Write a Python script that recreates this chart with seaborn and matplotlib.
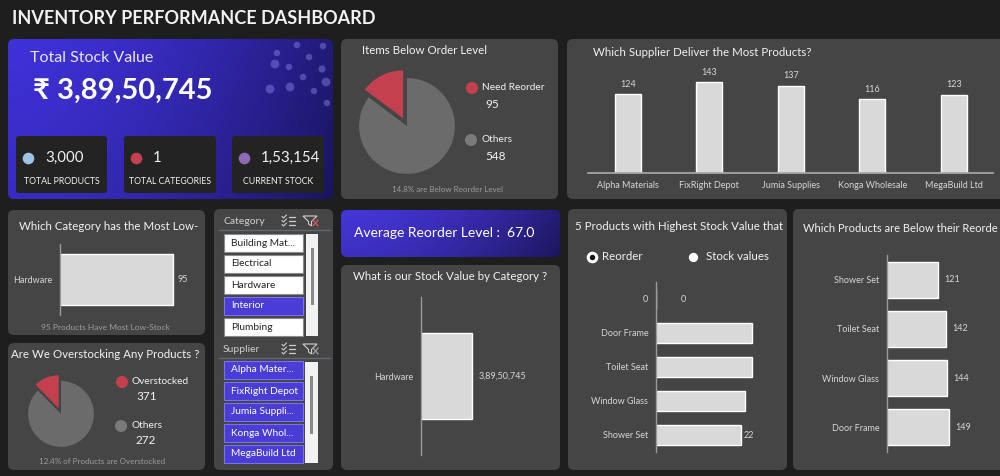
import numpy as np
import matplotlib
matplotlib.use("Agg")
import matplotlib.pyplot as plt
import seaborn as sns
from matplotlib.patches import FancyBboxPatch, Polygon, Rectangle
from matplotlib.colors import LinearSegmentedColormap

# ---- data ----
total_stock_value = 38950745
kpi_labels = ["TOTAL PRODUCTS", "TOTAL CATEGORIES", "CURRENT STOCK"]
kpi_values = [3000, 1, 153154]
kpi_colors = ["#9dc3e6", "#c4404e", "#8e69b5"]

reorder_labels = ["Need Reorder", "Others"]
reorder_counts = [95, 548]

overstock_labels = ["Overstocked", "Others"]
overstock_counts = [371, 272]
overstock_share = [12.4, 87.6]

suppliers = ["Alpha Materials", "FixRight Depot", "Jumia Supplies",
             "Konga Wholesale", "MegaBuild Ltd"]
supplier_products = [124, 143, 137, 116, 123]

low_stock_category = ["Hardware"]
low_stock_count = [95]

value_category = ["Hardware"]
category_stock_value = [38950745]

top_products = ["0", "Door Frame", "Toilet Seat", "Window Glass", "Shower Set"]
top_product_values = [0, 24.8, 24.8, 23.0, 22]
top_product_labels = ["", "", "", "", "22"]

below_products = ["Shower Set", "Toilet Seat", "Window Glass", "Door Frame"]
below_values = [121, 142, 144, 149]

category_items = ["Building Mat...", "Electrical", "Hardware", "Interior", "Plumbing"]
category_selected = [False, False, False, True, False]
supplier_items = ["Alpha Mater...", "FixRight Depot", "Jumia Suppli...",
                  "Konga Whol...", "MegaBuild Ltd"]
avg_reorder_level = 67.0


def indian(n):
    s = str(int(n))
    if len(s) <= 3:
        return s
    head, tail = s[:-3], s[-3:]
    groups = []
    while len(head) > 2:
        groups.insert(0, head[-2:])
        head = head[:-2]
    if head:
        groups.insert(0, head)
    return ",".join(groups + [tail])


sns.set_theme(style="dark")
plt.rcParams["font.family"] = ["Lato", "DejaVu Sans"]

BG = "#1e1e1e"
PANEL = "#454545"
BAR = "#d9d9d9"
TXT = "#f2f2f2"
TICK = "#d6d6d6"
FOOT = "#9c9c9c"
RED = "#c4404e"
GREY = "#6b6b6b"
BLUE = "#4a3cd6"

W, H = 1000, 476
fig = plt.figure(figsize=(10, 4.76), dpi=100, facecolor=BG)
canvas = fig.add_axes([0, 0, 1, 1])
canvas.set_facecolor(BG)
canvas.axis("off")


def panel(x0, y0, x1, y1, color=PANEL, r=6, z=1):
    p = FancyBboxPatch((x0, y0), x1 - x0, y1 - y0,
                       boxstyle=f"round,pad=0,rounding_size={r}",
                       fc=color, ec="none", zorder=z)
    canvas.add_patch(p)
    return p


def gradient(x0, y0, x1, y1, c0, c1):
    p = panel(x0, y0, x1, y1, color="none")
    xx, yy = np.meshgrid(np.linspace(0, 1, 200), np.linspace(0, 1, 60))
    t = 0.8 * xx ** 1.6 + 0.2 * yy
    cmap = LinearSegmentedColormap.from_list("g", [c0, c1])
    im = canvas.imshow(t, extent=(x0, x1, y1, y0), cmap=cmap, aspect="auto",
                       zorder=1, vmin=0, vmax=1)
    im.set_clip_path(p)


def add_ax(x0, y0, x1, y1):
    ax = fig.add_axes([x0 / W, 1 - y1 / H, (x1 - x0) / W, (y1 - y0) / H])
    ax.set_facecolor("none")
    return ax


def txt(x, y, s, size=8, color=TXT, ha="left", weight="normal", **kw):
    canvas.text(x, y, s, fontsize=size, color=color, ha=ha, va="center",
                fontweight=weight, zorder=5, **kw)


def style_hbar(ax, xmax, n):
    ax.set_xlim(0, xmax)
    ax.set_ylim(n - 0.5, -0.5)
    for s in ["top", "right", "bottom"]:
        ax.spines[s].set_visible(False)
    ax.spines["left"].set_visible(True)
    ax.spines["left"].set_color("#9a9a9a")
    ax.spines["left"].set_linewidth(1)
    ax.set_xticks([])
    ax.tick_params(axis="y", length=0, pad=5.5, labelsize=6.5, labelcolor=TICK)
    ax.set_xlabel("")
    ax.set_ylabel("")
    ax.grid(False)


# ---- header ----
txt(12, 18, "INVENTORY PERFORMANCE DASHBOARD", size=13, weight="bold")

# ---- total stock value card ----
gradient(8, 39, 333, 199, "#3f31d8", "#1a1560")
deco = [(297, 45, 22), (323, 46, 22), (277, 53, 22), (275, 64, 40), (289, 67, 22),
        (309, 57, 22), (322, 69, 26), (303, 77, 22), (326, 82, 40), (270, 89, 40),
        (290, 87, 40), (314, 91, 22), (327, 103, 22)]
canvas.scatter([d[0] for d in deco], [d[1] for d in deco], s=[d[2] for d in deco],
               color="#8a86e8", alpha=0.45, lw=0, zorder=2)
txt(30, 58, "Total Stock Value", size=11.5, color="#e8e6ff")
txt(33, 91, "₹ " + indian(total_stock_value), size=21, weight="bold", color="white")

card_x = [(16, 107), (124, 216), (232, 324)]
for (cx0, cx1), lab, val, col in zip(card_x, kpi_labels, kpi_values, kpi_colors):
    panel(cx0, 136, cx1, 193, color="#232323", r=3, z=2)
    canvas.scatter([cx0 + 12], [158], s=70, color=col, lw=0, zorder=5)
    txt(cx0 + 29, 158, indian(val), size=10.8)
    txt((cx0 + cx1) / 2, 182, lab, size=6.3, ha="center")

# ---- items below order level ----
panel(341, 39, 558, 199)
txt(362, 51, "Items Below Order Level", size=8.3)
ax = add_ax(349.5, 68.5, 464.5, 183.5)
ax.pie(reorder_counts, colors=[RED, GREY], startangle=90, counterclock=True,
       explode=[0.18, 0], radius=1, wedgeprops=dict(lw=0))
ax.set_xlim(-1.2, 1.2)
ax.set_ylim(-1.2, 1.2)
canvas.scatter([472, 471], [88, 140], s=75, color=[RED, "#7a7a7a"], lw=0, zorder=5)
txt(482, 87, reorder_labels[0], size=7.3)
txt(485, 104, str(reorder_counts[0]), size=8.5)
txt(482, 140, reorder_labels[1], size=7.3)
txt(485, 156, str(reorder_counts[1]), size=8.5)
pct = 100 * reorder_counts[0] / sum(reorder_counts)
txt(447, 189, f"{pct:.1f}% are Below Reorder Level", size=5.8, color=FOOT, ha="center")

# ---- supplier bars ----
panel(567, 39, 1012, 199)
txt(593, 53, "Which Supplier Deliver the Most Products?", size=8.3)
ax = add_ax(588, 60, 993, 173)
sns.barplot(x=suppliers, y=supplier_products, color=BAR, width=0.32,
            saturation=1, ax=ax)
ax.set_xlim(-0.49, 4.48)
ax.set_ylim(0, 177.7)
for s in ["top", "right", "left"]:
    ax.spines[s].set_visible(False)
ax.spines["bottom"].set_color("#a8a8a8")
ax.set_yticks([])
ax.tick_params(axis="x", length=0, pad=6, labelsize=6.5, labelcolor=TICK)
ax.bar_label(ax.containers[0], padding=4, fontsize=6.5, color=TICK)
ax.grid(False)

# ---- category with most low stock ----
panel(8, 210, 205, 335)
txt(19, 226, "Which Category has the Most Low-", size=8.3)
ax = add_ax(60, 244, 200, 315)
sns.barplot(x=low_stock_count, y=low_stock_category, orient="h", color=BAR,
            width=0.73, saturation=1, ax=ax)
style_hbar(ax, 117.7, 1)
ax.bar_label(ax.containers[0], padding=3.5, fontsize=6.5, color=TICK)
txt(105, 328, f"{low_stock_count[0]} Products Have Most Low-Stock", size=6,
    color=FOOT, ha="center")

# ---- slicers ----
panel(214, 209, 333, 470)
txt(223, 221, "Category", size=7.5, color="#cfcfcf")
txt(223, 349, "Supplier", size=7.5, color="#cfcfcf")
for yc in (221, 349):
    canvas.plot([219, 330], [yc + 9, yc + 9], color="#5d6b78", lw=1, zorder=4)
    for k, dy in enumerate((-4, 0, 4)):
        canvas.plot([289, 295], [yc + dy, yc + dy], color="#cfcfcf", lw=0.9, zorder=5)
        canvas.plot([282, 283.5, 286.5], [yc + dy - 0.5, yc + dy + 1, yc + dy - 2],
                    color="#cfcfcf", lw=0.8, zorder=5)
    canvas.add_patch(Polygon([(303, yc - 5), (317, yc - 5), (311.5, yc + 0.5),
                              (311.5, yc + 5), (308.5, yc + 3), (308.5, yc + 0.5)],
                             closed=True, fill=False, ec="#cfcfcf", lw=0.8, zorder=5))
canvas.plot([313, 318], [220, 226], color="#d9505c", lw=1, zorder=6)
canvas.plot([313, 318], [226, 220], color="#d9505c", lw=1, zorder=6)
canvas.plot([313, 318], [348, 354], color="#9a9a9a", lw=1, zorder=6)
canvas.plot([313, 318], [354, 348], color="#9a9a9a", lw=1, zorder=6)

for i, (item, sel) in enumerate(zip(category_items, category_selected)):
    y0 = 234 + i * 21
    fc = BLUE if sel else "white"
    canvas.add_patch(Rectangle((224, y0), 79, 18, fc=fc, ec="#8a8a8a" if not sel else "#7b72e6",
                               lw=0.8, zorder=4))
    txt(231, y0 + 9, item, size=7.3, color="white" if sel else "#222222")
canvas.add_patch(Rectangle((306, 234), 12, 102, fc="#f2f2f2", ec="none", zorder=4))
canvas.add_patch(Rectangle((310.5, 248), 3, 57, fc="#8a8a8a", ec="none", zorder=5))

for i, item in enumerate(supplier_items):
    y0 = 361 + i * 21
    canvas.add_patch(Rectangle((224, y0), 79, 18, fc=BLUE, ec="#7b72e6", lw=0.8, zorder=4))
    txt(231, y0 + 9, item, size=7.3, color="white")
canvas.add_patch(Rectangle((305, 362), 13, 101, fc="#f2f2f2", ec="none", zorder=4))
canvas.add_patch(Rectangle((310, 376), 3, 58, fc="#8a8a8a", ec="none", zorder=5))

# ---- overstocking pie ----
panel(8, 343, 205, 470)
txt(105, 355, "Are We Overstocking Any Products ?", size=8.3, ha="center")
ax = add_ax(21.5, 374.5, 100.5, 453.5)
ax.pie(overstock_share, colors=[RED, GREY], startangle=90, counterclock=True,
       explode=[0.19, 0], radius=1, wedgeprops=dict(lw=0))
ax.set_xlim(-1.2, 1.2)
ax.set_ylim(-1.2, 1.2)
canvas.scatter([122, 121], [382, 426], s=75, color=[RED, "#7a7a7a"], lw=0, zorder=5)
txt(132, 382, overstock_labels[0], size=7.3)
txt(136, 397, str(overstock_counts[0]), size=8.5)
txt(131, 426, overstock_labels[1], size=7.3)
txt(136, 441, str(overstock_counts[1]), size=8.5)
txt(102, 462, f"{overstock_share[0]}% of Products are Overstocked", size=5.8,
    color=FOOT, ha="center")

# ---- average reorder level ----
gradient(341, 210, 560, 257, "#4536d8", "#1c175f")
txt(354, 233, f"Average Reorder Level :  {avg_reorder_level:.1f}", size=10, color="white")

# ---- stock value by category ----
panel(341, 265, 560, 470)
txt(450, 276, "What is our Stock Value by Category ?", size=8.3, ha="center")
ax = add_ax(421, 297, 555, 455)
sns.barplot(x=category_stock_value, y=value_category, orient="h", color=BAR,
            width=0.54, saturation=1, ax=ax)
style_hbar(ax, category_stock_value[0] * 134 / 51, 1)
ax.bar_label(ax.containers[0], labels=[indian(v) for v in category_stock_value],
             padding=4.5, fontsize=6.5, color=TICK)

# ---- 5 products with highest stock value ----
panel(568, 209, 787, 470)
txt(575, 227, "5 Products with Highest Stock Value that", size=8.3)
canvas.scatter([592], [257], s=38, color="#111111", ec="white", lw=2.2, zorder=5)
txt(602, 257, "Reorder", size=8.3)
canvas.scatter([693], [257], s=45, color="white", lw=0, zorder=5)
txt(706, 257, "Stock values", size=8.3)
ax = add_ax(656, 282, 785, 452)
sns.barplot(x=top_product_values, y=top_products, orient="h", color=BAR,
            width=0.56, saturation=1, ax=ax)
style_hbar(ax, 33.4, len(top_products))
ax.bar_label(ax.containers[0], labels=top_product_labels, padding=2,
             fontsize=6.5, color=TICK)
ax.annotate(str(top_product_values[0]), xy=(top_product_values[0], 0),
            xytext=(18, 0), textcoords="offset points", va="center",
            fontsize=6.5, color=TICK)

# ---- products below reorder level ----
panel(793, 209, 1012, 470)
txt(803, 228, "Which Products are Below their Reorde", size=8)
ax = add_ax(887, 255, 997, 452)
sns.barplot(x=below_values, y=below_products, orient="h", color=BAR,
            width=0.73, saturation=1, ax=ax)
style_hbar(ax, 263, len(below_products))
ax.bar_label(ax.containers[0], padding=4.5, fontsize=6.5, color=TICK)

canvas.set_xlim(0, W)
canvas.set_ylim(H, 0)

fig.savefig("out.png", dpi=100, facecolor=BG)
